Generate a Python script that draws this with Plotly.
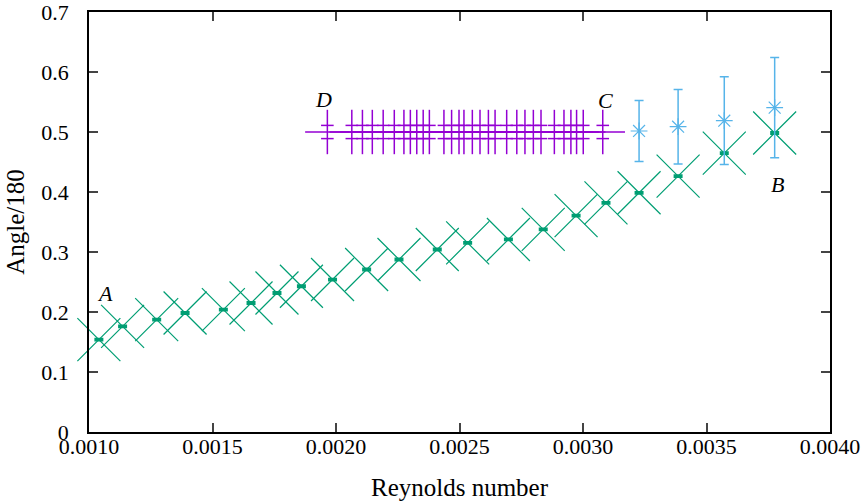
import plotly.graph_objects as go

# ---- data ----
green_x = [0.001040, 0.001136, 0.001274, 0.001389, 0.001544, 0.001656, 0.001761,
           0.001860, 0.001986, 0.002124, 0.002255, 0.002410, 0.002533, 0.002698,
           0.002839, 0.002972, 0.003093, 0.003227, 0.003385, 0.003572, 0.003776]
green_y = [0.1539, 0.1761, 0.1873, 0.1983, 0.2040, 0.2150, 0.2317,
           0.2429, 0.2541, 0.2708, 0.2875, 0.3042, 0.3152, 0.3209,
           0.3376, 0.3606, 0.3820, 0.3987, 0.4265, 0.4649, 0.4983]
green_err = [0.0015] * len(green_x)

purple_x = [0.001965, 0.002064, 0.002107, 0.002147, 0.002191, 0.002236, 0.002275,
            0.002301, 0.002327, 0.002353, 0.002378, 0.002437, 0.002468, 0.002498,
            0.002518, 0.002552, 0.002583, 0.002617, 0.002644, 0.002691, 0.002732,
            0.002765, 0.002799, 0.002830, 0.002884, 0.002923, 0.002951, 0.002974,
            0.003001, 0.003080]
purple_y = [0.5] * len(purple_x)
purple_yerr = 0.037
purple_xerr = 0.00009
purple_tick = 0.011

blue_x = [0.003227, 0.003385, 0.003572, 0.003776]
blue_y = [0.5017, 0.5088, 0.5189, 0.5406]
blue_err = [0.051, 0.062, 0.073, 0.0835]

x_ticks = [0.0010, 0.0015, 0.0020, 0.0025, 0.0030, 0.0035, 0.0040]
y_ticks = [0, 0.1, 0.2, 0.3, 0.4, 0.5, 0.6, 0.7]
y_ticktext = ["0", "0.1", "0.2", "0.3", "0.4", "0.5", "0.6", "0.7"]

labels = ["A", "D", "C", "B"]
label_x = [0.001065, 0.00195, 0.003093, 0.003789]
label_y = [0.231, 0.555, 0.552, 0.413]

PURPLE = "#9400d3"
GREEN = "#009e73"
BLUE = "#56b4e9"
FONT = "Liberation Serif"

fig = go.Figure()

# purple: horizontal + vertical bars
fig.add_trace(go.Scatter(
    x=purple_x, y=purple_y, mode="markers",
    marker=dict(size=1, color=PURPLE, opacity=0),
    error_x=dict(type="constant", value=purple_xerr, width=0, thickness=1.5, color=PURPLE),
    error_y=dict(type="constant", value=purple_yerr, width=0, thickness=1.5, color=PURPLE),
    cliponaxis=False, showlegend=False, hoverinfo="x+y"))
fig.add_trace(go.Scatter(
    x=purple_x + purple_x,
    y=[v + purple_tick for v in purple_y] + [v - purple_tick for v in purple_y],
    mode="markers",
    marker=dict(symbol="line-ew-open", size=9, color=PURPLE,
                line=dict(width=1.5, color=PURPLE)),
    cliponaxis=False, showlegend=False, hoverinfo="skip"))

# green
fig.add_trace(go.Scatter(
    x=green_x, y=green_y, mode="markers",
    marker=dict(symbol="x-thin-open", size=43, color=GREEN,
                line=dict(width=1.2, color=GREEN)),
    error_y=dict(type="data", array=green_err, width=4.5, thickness=2, color=GREEN),
    cliponaxis=False, showlegend=False))

# blue
fig.add_trace(go.Scatter(
    x=blue_x, y=blue_y, mode="markers",
    marker=dict(symbol="asterisk-open", size=14, color=BLUE,
                line=dict(width=1.2, color=BLUE)),
    error_y=dict(type="data", array=blue_err, width=4.5, thickness=1.5, color=BLUE),
    cliponaxis=False, showlegend=False))

for t, lx, ly in zip(labels, label_x, label_y):
    fig.add_annotation(x=lx, y=ly, text="<i>" + t + "</i>", showarrow=False,
                       font=dict(family=FONT, size=22, color="black"))

axis_common = dict(
    showline=True, linecolor="black", linewidth=1.5, mirror="allticks",
    ticks="inside", ticklen=9, tickwidth=1.5, tickcolor="#444444",
    showgrid=False, zeroline=False, automargin=False,
    ticklabeloverflow="allow",
    tickfont=dict(family=FONT, size=22, color="black"),
)

fig.update_xaxes(range=[0.0010, 0.0040], tickvals=x_ticks, tickformat=".4f",
                 ticklabelstandoff=-6,
                 title=dict(text="Reynolds number", font=dict(family=FONT, size=25, color="black"),
                            standoff=20),
                 **axis_common)
fig.update_yaxes(range=[0, 0.7], tickvals=y_ticks, ticktext=y_ticktext,
                 ticklabelstandoff=14,
                 title=dict(text="Angle/180", font=dict(family=FONT, size=25, color="black"),
                            standoff=10),
                 **axis_common)

fig.update_layout(
    width=864, height=502,
    margin=dict(l=89, r=34, t=12, b=70),
    paper_bgcolor="white", plot_bgcolor="white",
    font=dict(family=FONT, color="black"),
)

fig.write_html("out.html",
               config={"displayModeBar": False},
               post_script="document.body.style.margin='0';document.body.style.overflow='hidden';")
